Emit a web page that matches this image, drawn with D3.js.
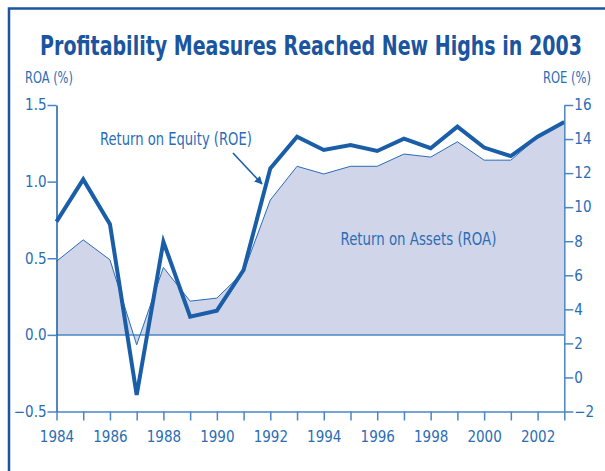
<!DOCTYPE html>
<html>
<head>
<meta charset="utf-8">
<script src="https://cdn.jsdelivr.net/npm/d3@7"></script>
<style>
  body { margin: 0; background: #fff; }
  text { font-family: "DejaVu Sans Condensed", "DejaVu Sans", sans-serif; }
</style>
</head>
<body>
<div id="chart"></div>
<script>
let years = d3.range(1984, 2004);
let roa = [0.48, 0.62, 0.49, -0.065, 0.44, 0.22, 0.24, 0.41, 0.88, 1.10,
           1.05, 1.10, 1.10, 1.18, 1.16, 1.26, 1.14, 1.14, 1.29, 1.39];
let roe = [9.15, 11.63, 9.0, -1.03, 7.97, 3.57, 3.92, 6.31, 12.28, 14.14,
           13.36, 13.65, 13.3, 14.02, 13.46, 14.73, 13.5, 13.0, 14.14, 15.0];
let roaTicks = [-0.5, 0.0, 0.5, 1.0, 1.5];
let roeTicks = [-2, 0, 2, 4, 6, 8, 10, 12, 14, 16];
let yearLabels = d3.range(1984, 2003, 2);

let svgWidth = 605, svgHeight = 471;
let plotLeft = 56.5, plotRight = 564.3, plotTop = 105, plotBottom = 411.5;
let dark = '#1a5ea8', light = '#4a86c5', textCol = '#2a6db5';
let fontFam = '"DejaVu Sans Condensed", "DejaVu Sans", sans-serif';

let svg = d3.select('#chart').append('svg')
    .attr('width', svgWidth)
    .attr('height', svgHeight);

// squeeze a text horizontally to a given width, anchored at (x, y)
function fitText(sel, x, y, width) {
    let w = sel.node().getComputedTextLength();
    sel.attr('x', 0).attr('y', 0)
        .attr('transform', 'translate(' + x + ',' + y + ') scale(' + (width / w) + ',1)');
}

// frame
svg.append('path')
    .attr('d', 'M9,471 V8.5 H605')
    .attr('fill', 'none')
    .attr('stroke', '#1b55a0')
    .attr('stroke-width', 2.5);

let title = svg.append('text')
    .attr('text-anchor', 'middle')
    .attr('fill', '#1b55a0')
    .style('font-size', '26px')
    .style('font-weight', 'bold')
    .text('Profitability Measures Reached New Highs in 2003');
fitText(title, 311, 55, 542);

let x = d3.scaleLinear().domain([1984, 2003]).range([plotLeft, plotRight]);
let yL = d3.scaleLinear().domain([-0.5, 1.5]).range([plotBottom, plotTop]);
let yR = d3.scaleLinear().domain([-2, 16]).range([plotBottom, plotTop]);

// ROA area
let area = d3.area()
    .x((d, i) => x(years[i]))
    .y0(yL(0))
    .y1(d => yL(d));
svg.append('path')
    .datum(roa)
    .attr('d', area)
    .attr('fill', '#d0d5ea');

// zero line
svg.append('line')
    .attr('x1', plotLeft).attr('x2', plotRight)
    .attr('y1', yL(0)).attr('y2', yL(0))
    .attr('stroke', light)
    .attr('stroke-width', 1.5);

svg.append('path')
    .datum(roa)
    .attr('d', d3.line().x((d, i) => x(years[i])).y(d => yL(d)))
    .attr('fill', 'none')
    .attr('stroke', textCol)
    .attr('stroke-width', 1);

svg.append('path')
    .datum(roe)
    .attr('d', d3.line().x((d, i) => x(years[i])).y(d => yR(d)))
    .attr('fill', 'none')
    .attr('stroke', dark)
    .attr('stroke-width', 4)
    .attr('stroke-linejoin', 'miter');

// axes
function styleAxis(g) {
    g.selectAll('.domain').attr('stroke', light).attr('stroke-width', 1.5);
    g.selectAll('.tick line').attr('stroke', light).attr('stroke-width', 1.5);
    g.selectAll('.tick text')
        .attr('fill', textCol)
        .style('font-size', '15px')
        .style('font-family', fontFam);
}

svg.append('g')
    .attr('transform', 'translate(0,' + plotBottom + ')')
    .call(d3.axisBottom(x).tickValues(years).tickSize(9).tickSizeOuter(0).tickFormat(d => yearLabels.includes(d) ? d : ''))
    .call(styleAxis)
    .call(g => g.selectAll('.tick text').attr('dy', '1.2em'));

svg.append('g')
    .attr('transform', 'translate(' + plotLeft + ',0)')
    .call(d3.axisLeft(yL).tickValues(roaTicks).tickSize(9).tickSizeOuter(0).tickFormat(d3.format('.1f')))
    .call(styleAxis)
    .call(g => g.select('.domain').attr('stroke', dark))
    .call(g => g.selectAll('.tick text').attr('x', -10));

svg.append('g')
    .attr('transform', 'translate(' + plotRight + ',0)')
    .call(d3.axisRight(yR).tickValues(roeTicks).tickSize(9).tickSizeOuter(0))
    .call(styleAxis)
    .call(g => g.selectAll('.tick text').attr('x', 10));

// axis titles
let roaTitle = svg.append('text')
    .attr('fill', textCol)
    .style('font-size', '15px')
    .text('ROA (%)');
fitText(roaTitle, 25, 83, 48);
let roeTitle = svg.append('text')
    .attr('text-anchor', 'end')
    .attr('fill', textCol)
    .style('font-size', '15px')
    .text('ROE (%)');
fitText(roeTitle, 591, 83, 48);

// annotations
let roeLabel = svg.append('text')
    .attr('fill', textCol)
    .style('font-size', '17px')
    .text('Return on Equity (ROE)');
fitText(roeLabel, 100, 145, 152);
let roaLabel = svg.append('text')
    .attr('text-anchor', 'middle')
    .attr('fill', textCol)
    .style('font-size', '17px')
    .text('Return on Assets (ROA)');
fitText(roaLabel, 418.5, 245, 156);

svg.append('defs').append('marker')
    .attr('id', 'arrow')
    .attr('viewBox', '0 0 10 10')
    .attr('refX', 9).attr('refY', 5)
    .attr('markerWidth', 5).attr('markerHeight', 5)
    .attr('orient', 'auto')
    .append('path')
    .attr('d', 'M0,0 L10,5 L0,10 z')
    .attr('fill', dark);
svg.append('line')
    .attr('x1', 233).attr('y1', 153)
    .attr('x2', 262).attr('y2', 184)
    .attr('stroke', dark)
    .attr('stroke-width', 1.6)
    .attr('marker-end', 'url(#arrow)');
</script>
</body>
</html>
